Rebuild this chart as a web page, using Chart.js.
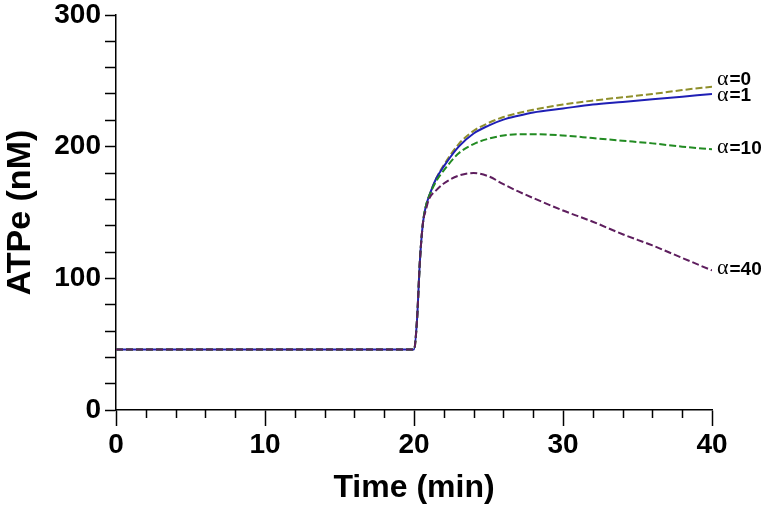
<!DOCTYPE html>
<html>
<head>
<meta charset="utf-8">
<script src="https://cdn.jsdelivr.net/npm/chart.js@4"></script>
<style>
  html, body { margin: 0; padding: 0; background: #fff; }
  #wrap { width: 768px; height: 507px; }
</style>
</head>
<body>
<div id="wrap"><canvas id="atpChart" width="768" height="507"></canvas></div>
<script>
// Time points (min)
const timePoints = [0, 20, 20.2, 20.4, 20.6, 20.8, 21, 21.5, 22, 23, 24, 25, 26, 27, 28, 30, 32, 34, 36, 38, 40];

// ATPe (nM) for each alpha
const alpha0  = [46, 46, 68, 114, 142, 155, 162, 176, 186, 202, 212, 218, 222.5, 225.5, 228, 232, 235, 237.5, 240, 243, 245.5];
const alpha1  = [46, 46, 68, 114, 142, 155, 162, 176, 185, 200, 210, 216, 220.5, 223.5, 226, 229, 232, 234, 236, 238, 240];
const alpha10 = [46, 46, 68, 114, 142, 155, 162, 174, 182, 195, 202, 206, 208.5, 209.5, 209.5, 208.5, 206.5, 204.5, 202.5, 200, 198];
const alpha40 = [46, 46, 68, 114, 142, 152, 160, 167, 172, 178, 180, 177.5, 171.5, 166, 161, 151.5, 143, 133.5, 125, 115.5, 106];

const seriesLabels = ['α=40', 'α=10', 'α=1', 'α=0'];

function toPoints(values) {
    return timePoints.map((t, i) => ({ x: t, y: values[i] }));
}

const fontFamily = '"Liberation Sans", Arial, sans-serif';

// draws the minor x ticks and the curve end labels
const extrasPlugin = {
    id: 'extras',
    afterDraw(chart) {
        const ctx = chart.ctx;
        const xs = chart.scales.x;
        const area = chart.chartArea;

        ctx.save();
        ctx.strokeStyle = '#000';
        ctx.lineWidth = 1.5;
        for (let t = 2; t < 40; t += 2) {
            if (t % 10 === 0) continue;
            const px = Math.round(xs.getPixelForValue(t)) + 0.5;
            ctx.beginPath();
            ctx.moveTo(px, area.bottom);
            ctx.lineTo(px, area.bottom + 8);
            ctx.stroke();
        }
        ctx.restore();

        ctx.save();
        ctx.fillStyle = '#000';
        ctx.textBaseline = 'middle';
        chart.data.datasets.forEach((ds, i) => {
            const meta = chart.getDatasetMeta(i);
            const last = meta.data[meta.data.length - 1];
            const x = last.x + 5;
            const y = last.y + ds.labelShift;
            ctx.font = '22px "Liberation Serif", serif';
            ctx.fillText('α', x, y - 1);
            const w = ctx.measureText('α').width;
            ctx.font = 'bold 19px ' + fontFamily;
            ctx.fillText(ds.label.slice(1), x + w + 1, y);
        });
        ctx.restore();
    }
};

const ctx = document.getElementById('atpChart').getContext('2d');
const chart = new Chart(ctx, {
    type: 'line',
    data: {
        datasets: [
            {
                label: seriesLabels[0],
                data: toPoints(alpha40),
                borderColor: '#5e1e5e',
                borderDash: [7, 3],
                labelShift: -1
            },
            {
                label: seriesLabels[1],
                data: toPoints(alpha10),
                borderColor: '#228b22',
                borderDash: [7, 3],
                labelShift: -1
            },
            {
                label: seriesLabels[2],
                data: toPoints(alpha1),
                borderColor: '#1f1fb5',
                labelShift: 2
            },
            {
                label: seriesLabels[3],
                data: toPoints(alpha0),
                borderColor: '#8f8f2b',
                borderDash: [7, 3],
                labelShift: -7
            }
        ]
    },
    options: {
        responsive: false,
        animation: false,
        layout: { padding: { top: 15, right: 56, left: 0, bottom: 0 } },
        elements: {
            point: { radius: 0 },
            line: { borderWidth: 2, cubicInterpolationMode: 'monotone', fill: false }
        },
        plugins: {
            legend: { display: false },
            tooltip: { enabled: false }
        },
        scales: {
            x: {
                type: 'linear',
                min: 0,
                max: 40,
                afterFit(scale) { scale.height = 97; },
                border: { color: '#000', width: 1.5 },
                grid: { drawOnChartArea: false, tickLength: 16, tickColor: '#000', tickWidth: 1.5 },
                ticks: {
                    stepSize: 10,
                    autoSkip: false,
                    maxRotation: 0,
                    color: '#000',
                    padding: 2,
                    font: { family: fontFamily, size: 28, weight: 'bold' }
                },
                title: {
                    display: true,
                    text: 'Time (min)',
                    color: '#000',
                    padding: { top: 0, bottom: 0 },
                    font: { family: fontFamily, size: 32, weight: 'bold' }
                }
            },
            y: {
                min: 0,
                max: 300,
                afterFit(scale) {
                    scale.width = 116;
                    scale.paddingTop = 0;
                },
                border: { color: '#000', width: 1.5 },
                grid: { drawOnChartArea: false, tickLength: 11, tickColor: '#000', tickWidth: 1.5 },
                ticks: {
                    stepSize: 20,
                    autoSkip: false,
                    color: '#000',
                    padding: 4,
                    callback: (v) => (v % 100 === 0 ? v : ''),
                    font: { family: fontFamily, size: 28, weight: 'bold' }
                },
                title: {
                    display: true,
                    text: 'ATPe (nM)',
                    color: '#000',
                    padding: { top: 0, bottom: 0 },
                    font: { family: fontFamily, size: 34, weight: 'bold' }
                }
            }
        }
    },
    plugins: [extrasPlugin]
});
</script>
</body>
</html>
